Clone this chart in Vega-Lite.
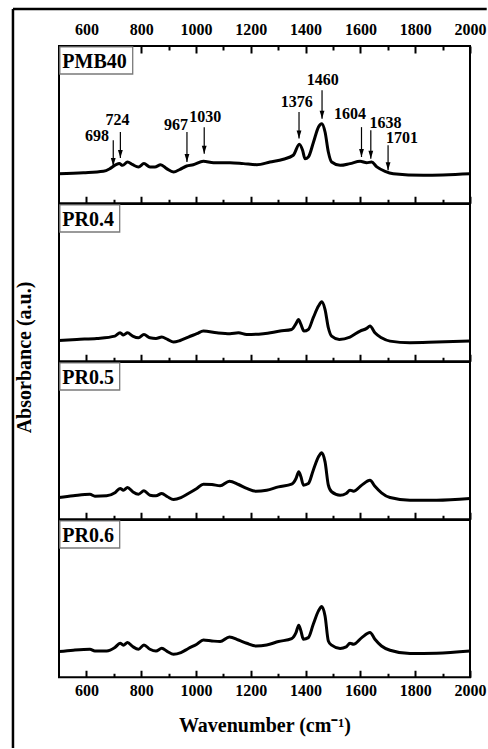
{
  "$schema": "https://vega.github.io/schema/vega-lite/v6.json",
  "padding": {"left": 10, "top": 6, "right": 0, "bottom": 0},
  "background": "white",
  "bounds": "flush",
  "spacing": 0,
  "config": {
    "view": {"stroke": "black", "strokeWidth": 2},
    "font": "Liberation Serif",
    "axis": {"labelFont": "Liberation Serif", "labelFontWeight": "bold", "labelFontSize": 16, "labelColor": "black", "titleFont": "Liberation Serif", "titleFontWeight": "bold", "titleFontSize": 20, "titleColor": "black", "grid": false, "domain": false, "tickColor": "black", "tickWidth": 2, "labelFlush": false, "labelOverlap": false, "format": "d"}
  },
  "datasets": {
    "spectra": [
      {"s":"PMB40","wn":500,"a":18.8},{"s":"PMB40","wn":589,"a":19.4},{"s":"PMB40","wn":662,"a":20.3},{"s":"PMB40","wn":686,"a":22.0},{"s":"PMB40","wn":708,"a":24.5},{"s":"PMB40","wn":720,"a":25.2},{"s":"PMB40","wn":732,"a":24.1},{"s":"PMB40","wn":750,"a":26.2},{"s":"PMB40","wn":769,"a":24.5},{"s":"PMB40","wn":790,"a":23.1},{"s":"PMB40","wn":810,"a":25.2},{"s":"PMB40","wn":832,"a":23.1},{"s":"PMB40","wn":850,"a":23.1},{"s":"PMB40","wn":871,"a":24.5},{"s":"PMB40","wn":893,"a":22.0},{"s":"PMB40","wn":918,"a":19.9},{"s":"PMB40","wn":942,"a":21.6},{"s":"PMB40","wn":966,"a":23.7},{"s":"PMB40","wn":990,"a":24.5},{"s":"PMB40","wn":1027,"a":26.7},{"s":"PMB40","wn":1064,"a":25.8},{"s":"PMB40","wn":1124,"a":25.8},{"s":"PMB40","wn":1173,"a":25.2},{"s":"PMB40","wn":1222,"a":24.5},{"s":"PMB40","wn":1270,"a":26.2},{"s":"PMB40","wn":1319,"a":28.0},{"s":"PMB40","wn":1355,"a":30.5},{"s":"PMB40","wn":1377,"a":37.5},{"s":"PMB40","wn":1389,"a":33.7},{"s":"PMB40","wn":1398,"a":28.3},{"s":"PMB40","wn":1410,"a":29.4},{"s":"PMB40","wn":1429,"a":39.0},{"s":"PMB40","wn":1447,"a":48.5},{"s":"PMB40","wn":1459,"a":50.6},{"s":"PMB40","wn":1471,"a":45.3},{"s":"PMB40","wn":1483,"a":32.6},{"s":"PMB40","wn":1495,"a":26.2},{"s":"PMB40","wn":1526,"a":24.1},{"s":"PMB40","wn":1562,"a":25.2},{"s":"PMB40","wn":1599,"a":26.7},{"s":"PMB40","wn":1623,"a":25.8},{"s":"PMB40","wn":1641,"a":26.2},{"s":"PMB40","wn":1660,"a":23.1},{"s":"PMB40","wn":1690,"a":20.3},{"s":"PMB40","wn":1720,"a":18.8},{"s":"PMB40","wn":1830,"a":17.8},{"s":"PMB40","wn":2000,"a":18.8},
      {"s":"PR0.4","wn":500,"a":13.2},{"s":"PR0.4","wn":565,"a":13.9},{"s":"PR0.4","wn":638,"a":14.5},{"s":"PR0.4","wn":704,"a":16.0},{"s":"PR0.4","wn":723,"a":18.1},{"s":"PR0.4","wn":735,"a":16.7},{"s":"PR0.4","wn":750,"a":18.1},{"s":"PR0.4","wn":769,"a":16.0},{"s":"PR0.4","wn":790,"a":14.9},{"s":"PR0.4","wn":810,"a":17.0},{"s":"PR0.4","wn":832,"a":14.9},{"s":"PR0.4","wn":854,"a":14.5},{"s":"PR0.4","wn":875,"a":15.4},{"s":"PR0.4","wn":896,"a":13.9},{"s":"PR0.4","wn":918,"a":12.2},{"s":"PR0.4","wn":942,"a":13.2},{"s":"PR0.4","wn":972,"a":15.4},{"s":"PR0.4","wn":1003,"a":17.5},{"s":"PR0.4","wn":1027,"a":19.2},{"s":"PR0.4","wn":1076,"a":18.1},{"s":"PR0.4","wn":1124,"a":17.5},{"s":"PR0.4","wn":1155,"a":18.1},{"s":"PR0.4","wn":1185,"a":17.0},{"s":"PR0.4","wn":1246,"a":17.5},{"s":"PR0.4","wn":1307,"a":19.2},{"s":"PR0.4","wn":1349,"a":20.2},{"s":"PR0.4","wn":1365,"a":23.9},{"s":"PR0.4","wn":1374,"a":26.6},{"s":"PR0.4","wn":1383,"a":23.4},{"s":"PR0.4","wn":1394,"a":19.2},{"s":"PR0.4","wn":1410,"a":20.2},{"s":"PR0.4","wn":1428,"a":27.7},{"s":"PR0.4","wn":1447,"a":35.1},{"s":"PR0.4","wn":1459,"a":37.8},{"s":"PR0.4","wn":1471,"a":32.9},{"s":"PR0.4","wn":1483,"a":21.3},{"s":"PR0.4","wn":1495,"a":16.0},{"s":"PR0.4","wn":1523,"a":13.9},{"s":"PR0.4","wn":1562,"a":15.4},{"s":"PR0.4","wn":1599,"a":19.2},{"s":"PR0.4","wn":1623,"a":20.9},{"s":"PR0.4","wn":1635,"a":22.4},{"s":"PR0.4","wn":1653,"a":18.1},{"s":"PR0.4","wn":1677,"a":14.9},{"s":"PR0.4","wn":1708,"a":12.8},{"s":"PR0.4","wn":1781,"a":11.8},{"s":"PR0.4","wn":1878,"a":12.2},{"s":"PR0.4","wn":2000,"a":12.8},
      {"s":"PR0.5","wn":500,"a":13.8},{"s":"PR0.5","wn":552,"a":14.9},{"s":"PR0.5","wn":613,"a":15.9},{"s":"PR0.5","wn":631,"a":14.7},{"s":"PR0.5","wn":674,"a":14.9},{"s":"PR0.5","wn":704,"a":16.8},{"s":"PR0.5","wn":723,"a":19.6},{"s":"PR0.5","wn":735,"a":18.5},{"s":"PR0.5","wn":750,"a":20.2},{"s":"PR0.5","wn":769,"a":17.5},{"s":"PR0.5","wn":790,"a":15.9},{"s":"PR0.5","wn":810,"a":18.1},{"s":"PR0.5","wn":832,"a":15.3},{"s":"PR0.5","wn":854,"a":14.9},{"s":"PR0.5","wn":875,"a":16.4},{"s":"PR0.5","wn":896,"a":14.3},{"s":"PR0.5","wn":918,"a":12.6},{"s":"PR0.5","wn":945,"a":13.8},{"s":"PR0.5","wn":972,"a":16.4},{"s":"PR0.5","wn":1003,"a":19.6},{"s":"PR0.5","wn":1027,"a":22.3},{"s":"PR0.5","wn":1058,"a":22.1},{"s":"PR0.5","wn":1088,"a":21.3},{"s":"PR0.5","wn":1122,"a":24.2},{"s":"PR0.5","wn":1155,"a":22.1},{"s":"PR0.5","wn":1185,"a":19.6},{"s":"PR0.5","wn":1219,"a":17.8},{"s":"PR0.5","wn":1258,"a":18.5},{"s":"PR0.5","wn":1301,"a":20.6},{"s":"PR0.5","wn":1349,"a":22.3},{"s":"PR0.5","wn":1365,"a":25.9},{"s":"PR0.5","wn":1375,"a":30.2},{"s":"PR0.5","wn":1383,"a":27.0},{"s":"PR0.5","wn":1392,"a":21.7},{"s":"PR0.5","wn":1410,"a":22.7},{"s":"PR0.5","wn":1428,"a":31.2},{"s":"PR0.5","wn":1447,"a":39.7},{"s":"PR0.5","wn":1459,"a":42.3},{"s":"PR0.5","wn":1471,"a":36.5},{"s":"PR0.5","wn":1483,"a":21.7},{"s":"PR0.5","wn":1495,"a":17.5},{"s":"PR0.5","wn":1526,"a":15.3},{"s":"PR0.5","wn":1548,"a":16.4},{"s":"PR0.5","wn":1562,"a":18.5},{"s":"PR0.5","wn":1575,"a":17.8},{"s":"PR0.5","wn":1605,"a":21.7},{"s":"PR0.5","wn":1635,"a":24.8},{"s":"PR0.5","wn":1653,"a":21.0},{"s":"PR0.5","wn":1677,"a":16.8},{"s":"PR0.5","wn":1708,"a":13.8},{"s":"PR0.5","wn":1781,"a":12.1},{"s":"PR0.5","wn":1878,"a":12.1},{"s":"PR0.5","wn":2000,"a":13.2},
      {"s":"PR0.6","wn":500,"a":16.3},{"s":"PR0.6","wn":552,"a":17.2},{"s":"PR0.6","wn":613,"a":17.8},{"s":"PR0.6","wn":631,"a":16.7},{"s":"PR0.6","wn":674,"a":16.7},{"s":"PR0.6","wn":704,"a":18.9},{"s":"PR0.6","wn":723,"a":21.6},{"s":"PR0.6","wn":735,"a":20.4},{"s":"PR0.6","wn":750,"a":22.1},{"s":"PR0.6","wn":769,"a":19.5},{"s":"PR0.6","wn":790,"a":17.8},{"s":"PR0.6","wn":810,"a":20.5},{"s":"PR0.6","wn":832,"a":17.8},{"s":"PR0.6","wn":854,"a":16.7},{"s":"PR0.6","wn":875,"a":18.4},{"s":"PR0.6","wn":896,"a":16.3},{"s":"PR0.6","wn":918,"a":14.6},{"s":"PR0.6","wn":945,"a":15.7},{"s":"PR0.6","wn":972,"a":18.3},{"s":"PR0.6","wn":1003,"a":21.0},{"s":"PR0.6","wn":1027,"a":23.7},{"s":"PR0.6","wn":1058,"a":23.1},{"s":"PR0.6","wn":1088,"a":22.7},{"s":"PR0.6","wn":1122,"a":25.6},{"s":"PR0.6","wn":1155,"a":23.7},{"s":"PR0.6","wn":1185,"a":21.6},{"s":"PR0.6","wn":1219,"a":19.9},{"s":"PR0.6","wn":1258,"a":20.5},{"s":"PR0.6","wn":1301,"a":22.7},{"s":"PR0.6","wn":1349,"a":24.6},{"s":"PR0.6","wn":1365,"a":28.4},{"s":"PR0.6","wn":1375,"a":33.1},{"s":"PR0.6","wn":1383,"a":29.4},{"s":"PR0.6","wn":1392,"a":24.2},{"s":"PR0.6","wn":1410,"a":25.2},{"s":"PR0.6","wn":1428,"a":33.7},{"s":"PR0.6","wn":1447,"a":42.2},{"s":"PR0.6","wn":1459,"a":45.0},{"s":"PR0.6","wn":1471,"a":39.0},{"s":"PR0.6","wn":1483,"a":23.1},{"s":"PR0.6","wn":1495,"a":20.4},{"s":"PR0.6","wn":1526,"a":18.3},{"s":"PR0.6","wn":1548,"a":19.3},{"s":"PR0.6","wn":1562,"a":21.6},{"s":"PR0.6","wn":1575,"a":21.0},{"s":"PR0.6","wn":1605,"a":25.2},{"s":"PR0.6","wn":1635,"a":28.4},{"s":"PR0.6","wn":1653,"a":24.2},{"s":"PR0.6","wn":1677,"a":19.9},{"s":"PR0.6","wn":1708,"a":17.2},{"s":"PR0.6","wn":1781,"a":15.1},{"s":"PR0.6","wn":1878,"a":15.3},{"s":"PR0.6","wn":2000,"a":16.7}
    ],
    "ann": [
      {"wn":698,"label":"698","lx":639,"ly":39.4,"top":40.0,"tip":23.7},
      {"wn":724,"label":"724","lx":713.5,"ly":49.6,"top":45.3,"tip":28.8},
      {"wn":967,"label":"967","lx":926.6,"ly":46.4,"top":45.3,"tip":26.2},
      {"wn":1030,"label":"1030","lx":1034,"ly":51.7,"top":48.4,"tip":31.5},
      {"wn":1376,"label":"1376","lx":1367.5,"ly":61.2,"top":58.0,"tip":41.1},
      {"wn":1460,"label":"1460","lx":1463,"ly":75.0,"top":71.8,"tip":53.8},
      {"wn":1604,"label":"1604","lx":1562,"ly":53.8,"top":48.4,"tip":29.4},
      {"wn":1638,"label":"1638","lx":1692,"ly":48.0,"top":46.4,"tip":28.3},
      {"wn":1701,"label":"1701","lx":1752,"ly":38.3,"top":36.9,"tip":21.0}
    ]
  },
  "vconcat": [
    {
      "width": 411, "height": 157.25,
      "resolve": {"axis": {"x": "independent"}},
      "layer": [
        {"data": {"name": "spectra"}, "transform": [{"filter": "datum.s === 'PMB40'"}],
         "mark": {"type": "line", "color": "black", "strokeWidth": 3, "interpolate": "monotone"},
         "encoding": {
           "x": {"field": "wn", "type": "quantitative", "scale": {"domain": [500, 2000], "nice": false, "zero": false}, "axis": {"orient": "bottom", "values": [600,800,1000,1200,1400,1600,1800,2000], "tickSize": 7, "offset": -7, "labels": false, "title": null}},
           "y": {"field": "a", "type": "quantitative", "scale": {"domain": [0, 100], "nice": false, "zero": false}, "axis": null}}},
        {"data": {"values": [{"label": "PMB40"}]},
         "mark": {"type": "rect", "fill": "white", "stroke": "#7a7a7a", "strokeWidth": 1.3},
         "encoding": {
           "x": {"datum": 503, "type": "quantitative", "scale": {"domain": [500, 2000], "nice": false, "zero": false}, "axis": {"orient": "bottom", "values": [700,900,1100,1300,1500,1700,1900], "tickSize": 4, "offset": -4, "labels": false, "title": null}},
           "x2": {"datum": 769},
           "y": {"datum": 99.4, "type": "quantitative", "scale": {"domain": [0, 100], "nice": false, "zero": false}, "axis": null},
           "y2": {"datum": 82.2}}},
        {"data": {"values": [{"label": "PMB40"}]},
         "mark": {"type": "text", "font": "Liberation Serif", "fontWeight": "bold", "fontSize": 20, "align": "left", "baseline": "alphabetic", "dx": 2.5, "color": "black"},
         "encoding": {
           "x": {"datum": 503, "type": "quantitative", "axis": null},
           "y": {"datum": 85.7, "type": "quantitative", "axis": null},
           "text": {"field": "label"}}},
        {"data": {"name": "ann"},
         "mark": {"type": "rule", "color": "black", "strokeWidth": 1.2},
         "encoding": {
           "x": {"field": "wn", "type": "quantitative", "scale": {"domain": [500, 2000], "nice": false, "zero": false}, "axis": {"orient": "top", "values": [600,800,1000,1200,1400,1600,1800,2000], "tickSize": 7, "offset": -7, "labelPadding": 9, "title": null}},
           "y": {"field": "top", "type": "quantitative", "axis": null},
           "y2": {"field": "tip"}}},
        {"data": {"name": "ann"},
         "mark": {"type": "point", "shape": "M-0.6,-2L0.6,-2L0,0Z", "size": 64, "filled": true, "color": "black", "opacity": 1},
         "encoding": {
           "x": {"field": "wn", "type": "quantitative", "scale": {"domain": [500, 2000], "nice": false, "zero": false}, "axis": {"orient": "top", "values": [700,900,1100,1300,1500,1700,1900], "tickSize": 4, "offset": -4, "labels": false, "title": null}},
           "y": {"field": "tip", "type": "quantitative", "axis": null}}},
        {"data": {"name": "ann"},
         "mark": {"type": "text", "font": "Liberation Serif", "fontWeight": "bold", "fontSize": 16, "align": "center", "baseline": "alphabetic", "color": "black"},
         "encoding": {
           "x": {"field": "lx", "type": "quantitative", "axis": null},
           "y": {"field": "ly", "type": "quantitative", "axis": null},
           "text": {"field": "label"}}},
        {"data": {"values": [{"part": "top"}]},
         "mark": {"type": "rule", "color": "black", "strokeWidth": 2.5},
         "encoding": {
           "x": {"datum": 332, "type": "quantitative", "axis": null},
           "x2": {"datum": 2061},
           "y": {"datum": 123.5, "type": "quantitative", "axis": null}}},
        {"data": {"values": [{"part": "left"}]},
         "mark": {"type": "rule", "color": "black", "strokeWidth": 2.5},
         "encoding": {
           "x": {"datum": 332, "type": "quantitative", "axis": null},
           "y": {"datum": 123.5, "type": "quantitative", "axis": null},
           "y2": {"datum": -346.5}}}
      ]
    },
    {
      "width": 411, "height": 157.25,
      "resolve": {"axis": {"x": "independent", "y": "independent"}},
      "layer": [
        {"data": {"name": "spectra"}, "transform": [{"filter": "datum.s === 'PR0.4'"}],
         "mark": {"type": "line", "color": "black", "strokeWidth": 3, "interpolate": "monotone"},
         "encoding": {
           "x": {"field": "wn", "type": "quantitative", "scale": {"domain": [500, 2000], "nice": false, "zero": false}, "axis": {"orient": "bottom", "values": [600,800,1000,1200,1400,1600,1800,2000], "tickSize": 7, "offset": -7, "labels": false, "title": null}},
           "y": {"field": "a", "type": "quantitative", "scale": {"domain": [0, 100], "nice": false, "zero": false}, "axis": {"orient": "left", "title": "Absorbance (a.u.)", "ticks": false, "labels": false, "domain": false, "titleX": -25, "titleY": 153, "titleAngle": 270, "titleBaseline": "bottom", "titleAlign": "center"}}}},
        {"data": {"values": [{"label": "PR0.4"}]},
         "mark": {"type": "rect", "fill": "white", "stroke": "#7a7a7a", "strokeWidth": 1.3},
         "encoding": {
           "x": {"datum": 503, "type": "quantitative", "scale": {"domain": [500, 2000], "nice": false, "zero": false}, "axis": {"orient": "bottom", "values": [700,900,1100,1300,1500,1700,1900], "tickSize": 4, "offset": -4, "labels": false, "title": null}},
           "x2": {"datum": 721.5},
           "y": {"datum": 99.4, "type": "quantitative", "scale": {"domain": [0, 100], "nice": false, "zero": false}, "axis": null},
           "y2": {"datum": 82.2}}},
        {"data": {"values": [{"label": "PR0.4"}]},
         "mark": {"type": "text", "font": "Liberation Serif", "fontWeight": "bold", "fontSize": 20, "align": "left", "baseline": "alphabetic", "dx": 2.5, "color": "black"},
         "encoding": {
           "x": {"datum": 503, "type": "quantitative", "axis": null},
           "y": {"datum": 85.7, "type": "quantitative", "axis": null},
           "text": {"field": "label"}}}
      ]
    },
    {
      "width": 411, "height": 157.25,
      "resolve": {"axis": {"x": "independent"}},
      "layer": [
        {"data": {"name": "spectra"}, "transform": [{"filter": "datum.s === 'PR0.5'"}],
         "mark": {"type": "line", "color": "black", "strokeWidth": 3, "interpolate": "monotone"},
         "encoding": {
           "x": {"field": "wn", "type": "quantitative", "scale": {"domain": [500, 2000], "nice": false, "zero": false}, "axis": {"orient": "bottom", "values": [600,800,1000,1200,1400,1600,1800,2000], "tickSize": 7, "offset": -7, "labels": false, "title": null}},
           "y": {"field": "a", "type": "quantitative", "scale": {"domain": [0, 100], "nice": false, "zero": false}, "axis": null}}},
        {"data": {"values": [{"label": "PR0.5"}]},
         "mark": {"type": "rect", "fill": "white", "stroke": "#7a7a7a", "strokeWidth": 1.3},
         "encoding": {
           "x": {"datum": 503, "type": "quantitative", "scale": {"domain": [500, 2000], "nice": false, "zero": false}, "axis": {"orient": "bottom", "values": [700,900,1100,1300,1500,1700,1900], "tickSize": 4, "offset": -4, "labels": false, "title": null}},
           "x2": {"datum": 721.5},
           "y": {"datum": 99.4, "type": "quantitative", "scale": {"domain": [0, 100], "nice": false, "zero": false}, "axis": null},
           "y2": {"datum": 82.2}}},
        {"data": {"values": [{"label": "PR0.5"}]},
         "mark": {"type": "text", "font": "Liberation Serif", "fontWeight": "bold", "fontSize": 20, "align": "left", "baseline": "alphabetic", "dx": 2.5, "color": "black"},
         "encoding": {
           "x": {"datum": 503, "type": "quantitative", "axis": null},
           "y": {"datum": 85.7, "type": "quantitative", "axis": null},
           "text": {"field": "label"}}}
      ]
    },
    {
      "width": 411, "height": 157.25,
      "resolve": {"axis": {"x": "independent"}},
      "layer": [
        {"data": {"name": "spectra"}, "transform": [{"filter": "datum.s === 'PR0.6'"}],
         "mark": {"type": "line", "color": "black", "strokeWidth": 3, "interpolate": "monotone"},
         "encoding": {
           "x": {"field": "wn", "type": "quantitative", "scale": {"domain": [500, 2000], "nice": false, "zero": false}, "axis": {"orient": "bottom", "values": [600,800,1000,1200,1400,1600,1800,2000], "tickSize": 7, "offset": -7, "labelPadding": 5, "title": "Wavenumber (cm⁻¹)", "titlePadding": 17}},
           "y": {"field": "a", "type": "quantitative", "scale": {"domain": [0, 100], "nice": false, "zero": false}, "axis": null}}},
        {"data": {"values": [{"label": "PR0.6"}]},
         "mark": {"type": "rect", "fill": "white", "stroke": "#7a7a7a", "strokeWidth": 1.3},
         "encoding": {
           "x": {"datum": 503, "type": "quantitative", "scale": {"domain": [500, 2000], "nice": false, "zero": false}, "axis": {"orient": "bottom", "values": [700,900,1100,1300,1500,1700,1900], "tickSize": 4, "offset": -4, "labels": false, "title": null}},
           "x2": {"datum": 721.5},
           "y": {"datum": 99.4, "type": "quantitative", "scale": {"domain": [0, 100], "nice": false, "zero": false}, "axis": null},
           "y2": {"datum": 82.2}}},
        {"data": {"values": [{"label": "PR0.6"}]},
         "mark": {"type": "text", "font": "Liberation Serif", "fontWeight": "bold", "fontSize": 20, "align": "left", "baseline": "alphabetic", "dx": 2.5, "color": "black"},
         "encoding": {
           "x": {"datum": 503, "type": "quantitative", "axis": null},
           "y": {"datum": 85.7, "type": "quantitative", "axis": null},
           "text": {"field": "label"}}}
      ]
    }
  ]
}
